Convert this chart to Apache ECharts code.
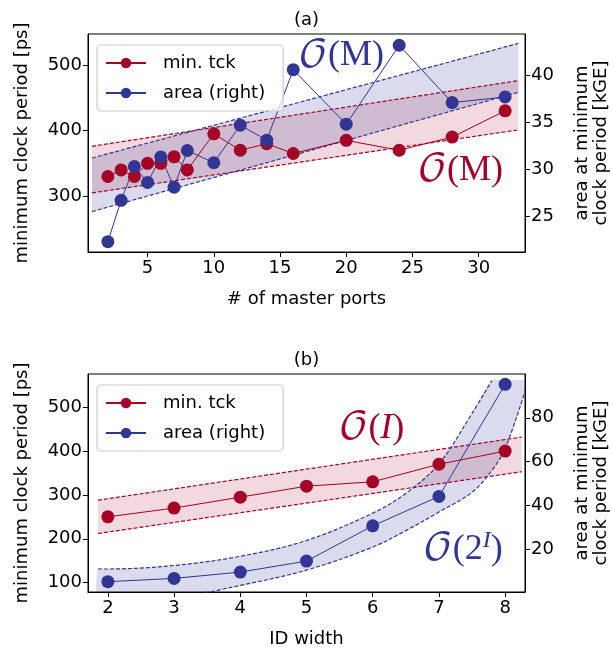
<!DOCTYPE html>
<html>
<head>
<meta charset="utf-8">
<script src="https://cdn.jsdelivr.net/npm/echarts@6.0.0/dist/echarts.min.js"></script>
<style>
  html, body { margin: 0; padding: 0; background: #fff; }
  #main { width: 613px; height: 652px; }
</style>
</head>
<body>
<div id="main"></div>
<script>
// (a) number of master ports
const portsX = [2, 3, 4, 5, 6, 7, 8, 10, 12, 14, 16, 20, 24, 28, 32]
const portsTck = [330, 340, 330, 350, 350, 360, 340, 395, 370, 380, 365, 385, 370, 390, 430]
const portsArea = [22.3, 26.7, 30.3, 28.6, 31.3, 28.1, 32.0, 30.7, 34.7, 33.1, 40.6, 34.8, 43.2, 37.1, 37.7]
const portsTicks = [5, 10, 15, 20, 25, 30]
const portsTckTicks = [300, 400, 500]
const portsAreaTicks = [25, 30, 35, 40]
// O(M) bands of (a), straight lines between the ends
const portsBandX = [0.8, 33]
const portsTckLo = [305, 401]
const portsTckHi = [376, 476]
const portsAreaLo = [25.5, 38.2]
const portsAreaHi = [31.2, 43.4]

// (b) ID width
const idX = [2, 3, 4, 5, 6, 7, 8]
const idTck = [250, 270, 295, 320, 330, 370, 400]
const idArea = [5.2, 6.7, 9.6, 14.6, 30.7, 44.1, 95.3]
const idTicks = [2, 3, 4, 5, 6, 7, 8]
const idTckTicks = [100, 200, 300, 400, 500]
const idAreaTicks = [20, 40, 60, 80]
const idTckBandX = [1.85, 8.25]
const idTckLo = [212, 353]
const idTckHi = [288, 432]
// O(2^I) band
const idAreaBandX = [1.85, 2, 3, 4, 5, 6, 6.5, 7, 7.5, 7.8, 8, 8.3]
const idAreaLo = [-6, -5.5, -2.5, 3.5, 10.5, 21, 28.5, 37, 46, 56, 66, 92]
const idAreaHi = [11, 11, 12.6, 16.8, 24, 36.5, 45.5, 59, 82, 97, 97, 97]
const idAreaCap = 97

const RED = '#a50026'
const BLUE = '#313695'
const RED_FILL = 'rgba(165,0,38,0.15)'
const BLUE_FILL = 'rgba(49,54,149,0.18)'
const FONT = 'DejaVu Sans'
const SERIF = 'Liberation Serif'
const MATH = "'DejaVu Math TeX Gyre', 'Liberation Serif', serif"

const pairs = (xs, ys) => xs.map((x, i) => [x, ys[i]])

// filled region between lo and hi, drawn once as a polygon in data coords
function bandFill(xs, lo, hi, color, xi, yi, smooth) {
  return {
    type: 'custom', xAxisIndex: xi, yAxisIndex: yi, clip: true, silent: true, z: 1,
    data: xs.map((x, i) => [x, lo[i], hi[i]]),
    encode: { x: 0, y: [1, 2] },
    renderItem: function(params, api) {
      if (params.dataIndex !== 0) return null
      const top = xs.map((x, i) => api.coord([x, hi[i]]))
      const bottom = xs.map((x, i) => api.coord([x, lo[i]])).reverse()
      return {
        type: 'polygon',
        shape: { points: top.concat(bottom), smooth: smooth || 0 },
        style: { fill: color }
      }
    }
  }
}

function dashed(xs, ys, color, xi, yi, smooth) {
  return {
    type: 'line', xAxisIndex: xi, yAxisIndex: yi,
    data: pairs(xs, ys), showSymbol: false, symbol: 'none', smooth: smooth || false,
    silent: true, z: 2,
    lineStyle: { color: color, width: 1.2, type: [4, 2] }
  }
}

function dataLine(name, xs, ys, color, xi, yi) {
  return {
    name: name, type: 'line', xAxisIndex: xi, yAxisIndex: yi,
    data: pairs(xs, ys), symbol: 'circle', symbolSize: 13, z: 3,
    itemStyle: { color: color },
    lineStyle: { color: color, width: 1 }
  }
}

// upper dashed edge of the O(2^I) band stops where the fill is capped
const capAt = idAreaHi.indexOf(idAreaCap) + 1
const idAreaHiLineX = idAreaBandX.slice(0, capAt)
const idAreaHiLine = idAreaHi.slice(0, capAt)

const series = [
  // grid 0
  bandFill(portsBandX, portsTckLo, portsTckHi, RED_FILL, 0, 0),
  bandFill(portsBandX, portsAreaLo, portsAreaHi, BLUE_FILL, 0, 1),
  dashed(portsBandX, portsTckHi, RED, 0, 0),
  dashed(portsBandX, portsTckLo, RED, 0, 0),
  dashed(portsBandX, portsAreaHi, BLUE, 0, 1),
  dashed(portsBandX, portsAreaLo, BLUE, 0, 1),
  dataLine('min. tck', portsX, portsTck, RED, 0, 0), // 6
  dataLine('area (right)', portsX, portsArea, BLUE, 0, 1), // 7
  // grid 1
  bandFill(idTckBandX, idTckLo, idTckHi, RED_FILL, 1, 2),
  bandFill(idAreaBandX, idAreaLo, idAreaHi.map(v => Math.min(v, idAreaCap)), BLUE_FILL, 1, 3, 0.3),
  dashed(idTckBandX, idTckHi, RED, 1, 2),
  dashed(idTckBandX, idTckLo, RED, 1, 2),
  dashed(idAreaHiLineX, idAreaHiLine, BLUE, 1, 3, 0.35),
  dashed(idAreaBandX, idAreaLo, BLUE, 1, 3, 0.35),
  dataLine('min. tck', idX, idTck, RED, 1, 2), // 14
  dataLine('area (right)', idX, idArea, BLUE, 1, 3) // 15
]

const labelStyle = { color: '#000', fontSize: 18, fontFamily: FONT }
const nameStyle = { color: '#000', fontSize: 18, fontFamily: FONT, lineHeight: 19 }

function xAxis(grid, min, max, ticks, name) {
  return {
    gridIndex: grid, type: 'value', min: min, max: max,
    name: name, nameLocation: 'middle', nameGap: 38, nameMoveOverlap: false, nameTextStyle: nameStyle,
    axisLine: { onZero: false, lineStyle: { color: '#000', width: 1 } },
    axisTick: { customValues: ticks, length: 5, lineStyle: { color: '#000' } },
    axisLabel: Object.assign({ customValues: ticks, margin: 7 }, labelStyle),
    splitLine: { show: false }
  }
}

function yAxis(grid, pos, min, max, ticks, name, gap) {
  return {
    gridIndex: grid, type: 'value', position: pos, min: min, max: max,
    name: name, nameLocation: 'middle', nameRotate: 90, nameGap: gap, nameMoveOverlap: false, nameTextStyle: nameStyle,
    axisLine: { show: true, onZero: false, lineStyle: { color: '#000', width: 1 } },
    axisTick: { customValues: ticks, length: 5, lineStyle: { color: '#000' } },
    axisLabel: Object.assign({ customValues: ticks, margin: 6 }, labelStyle),
    splitLine: { show: false }
  }
}

function legend(top) {
  return {
    orient: 'vertical', left: 97, top: top,
    data: ['min. tck', 'area (right)'],
    itemWidth: 40, itemHeight: 13, itemGap: 12,
    padding: [9, 18, 9, 8],
    borderColor: '#cccccc', borderWidth: 1.2, borderRadius: 4,
    backgroundColor: 'rgba(255,255,255,0.8)',
    textStyle: { color: '#000', fontSize: 18, fontFamily: FONT, padding: [0, 0, 0, 12] },
    selectedMode: false
  }
}

const chart = echarts.init(document.getElementById('main'), null, { renderer: 'canvas' })

chart.setOption({
  animation: false,
  backgroundColor: '#fff',
  title: [
    { text: '(a)', left: 'center', top: 6, textStyle: { fontSize: 18, fontWeight: 'normal', fontFamily: FONT, color: '#000' } },
    { text: '(b)', left: 'center', top: 346, textStyle: { fontSize: 18, fontWeight: 'normal', fontFamily: FONT, color: '#000' } }
  ],
  grid: [
    { left: 88, right: 88, top: 34, height: 218, outerBoundsMode: 'none', containLabel: false, show: true, borderColor: '#000', borderWidth: 1 },
    { left: 88, right: 88, top: 374, height: 218, outerBoundsMode: 'none', containLabel: false, show: true, borderColor: '#000', borderWidth: 1 }
  ],
  legend: [legend(45), legend(385)],
  xAxis: [
    xAxis(0, 0.5, 33.5, portsTicks, '# of master ports'),
    xAxis(1, 1.7, 8.3, idTicks, 'ID width')
  ],
  yAxis: [
    yAxis(0, 'left', 215, 547, portsTckTicks, 'minimum clock period [ps]', 56),
    yAxis(0, 'right', 21.2, 44.4, portsAreaTicks, 'area at minimum\nclock period [kGE]', 48),
    yAxis(1, 'left', 78.5, 576, idTckTicks, 'minimum clock period [ps]', 56),
    yAxis(1, 'right', 0.5, 100, idAreaTicks, 'area at minimum\nclock period [kGE]', 48)
  ],
  series: series
})

// complexity annotations, placed in data coordinates
const notes = [
  { at: [19.6, 42.1], series: 7, color: BLUE, text: '{o|𝒪}{p|(M)}' },
  { at: [28.6, 339.5], series: 6, color: RED, text: '{o|𝒪}{p|(M)}' },
  { at: [5.98, 452], series: 14, color: RED, text: '{o|𝒪}{p|(}{i|I}{p|)}' },
  { at: [7.36, 20.1], series: 15, color: BLUE, text: '{o|𝒪}{p|(2}{s|I}{p|)}' }
]

chart.setOption({
  graphic: notes.map(n => {
    const p = chart.convertToPixel({ seriesIndex: n.series }, n.at)
    return {
      type: 'text', x: p[0], y: p[1], z: 10, silent: true,
      style: {
        text: n.text, fill: n.color, align: 'center', verticalAlign: 'middle',
        rich: {
          o: { fontFamily: MATH, fontSize: 38, fill: n.color },
          p: { fontFamily: SERIF, fontSize: 36, fill: n.color },
          i: { fontFamily: SERIF, fontSize: 36, fontStyle: 'italic', fill: n.color },
          s: { fontFamily: SERIF, fontSize: 24, fontStyle: 'italic', fill: n.color, verticalAlign: 'top', padding: [0, 0, 16, 0] }
        }
      }
    }
  })
})
</script>
</body>
</html>
